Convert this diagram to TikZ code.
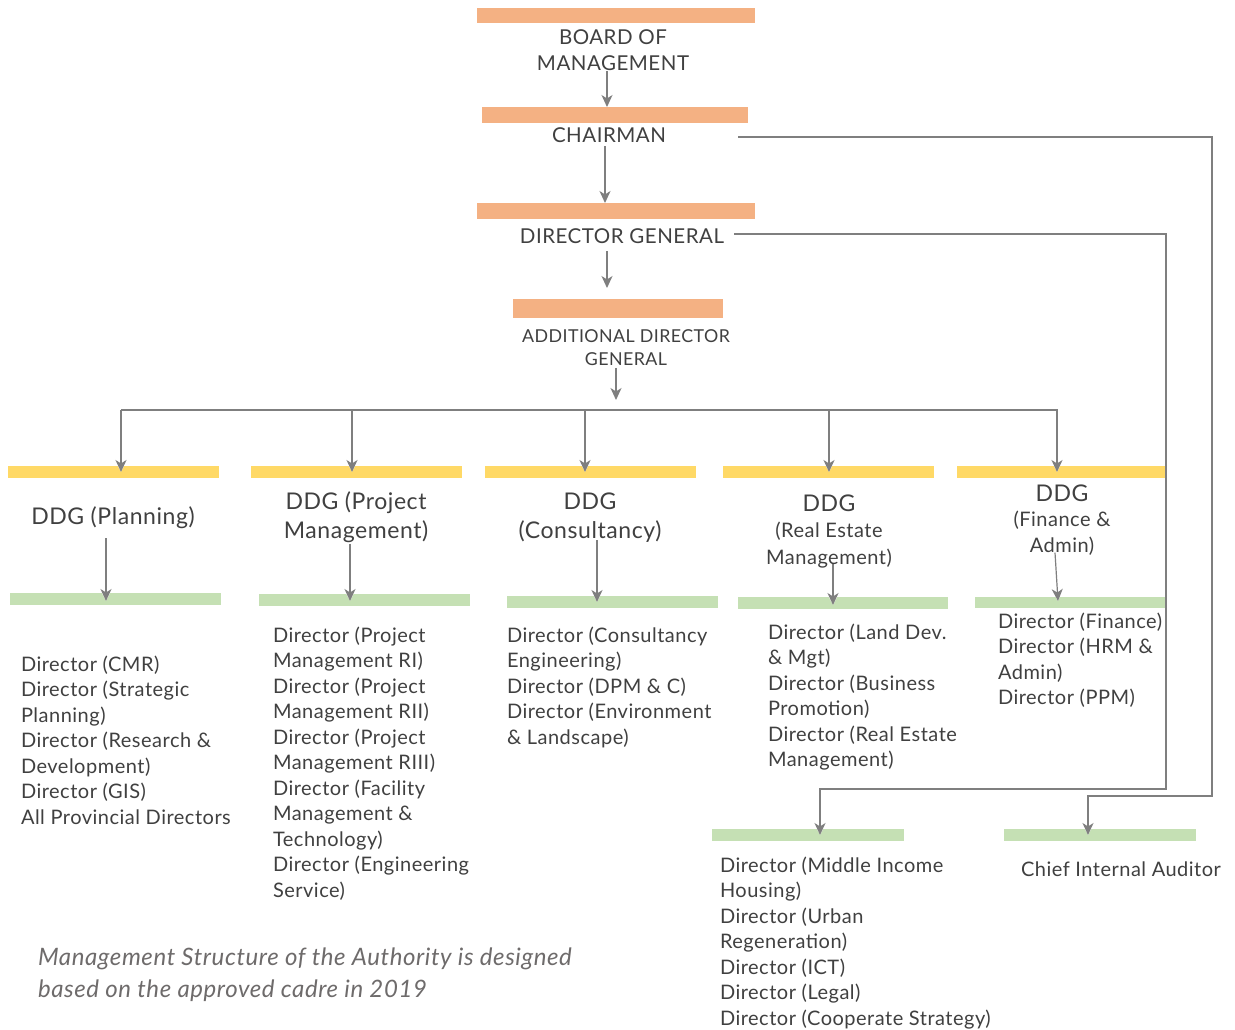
\documentclass[tikz,border=0pt]{standalone}
\usepackage{fontspec}
\setmainfont{Lato}[LetterSpace=2.5]
\usetikzlibrary{arrows.meta}

\definecolor{barorange}{HTML}{F4B183}
\definecolor{baryellow}{HTML}{FFD966}
\definecolor{bargreen}{HTML}{C5E0B4}
\definecolor{ink}{HTML}{404040}
\definecolor{wire}{HTML}{7F7F7F}
\definecolor{note}{HTML}{6E6B6B}

\pgfdeclarelayer{fg}
\pgfsetlayers{main,fg}

% font size / baseline skip in one go
\newcommand{\fsz}[2]{\fontsize{#1}{#2}\selectfont}
% stacked lines whose reference point is the first baseline
\newcommand{\tlines}[2]{\begin{tabular}[t]{@{}#1@{}}#2\end{tabular}}
% coloured band: name, x, y (top left), width, height, colour
\newcommand{\band}[6]{\node[band, fill=#6, minimum width=#4pt, minimum height=#5pt] (#1) at (#2,#3) {};}

\begin{document}
\begin{tikzpicture}[x=1pt, y=-1pt,
  band/.style={inner sep=0pt, outer sep=0pt, anchor=north west, draw=none},
  txt/.style={inner sep=0pt, outer sep=0pt, text=ink},
  wireline/.style={draw=wire, line width=1.2pt},
  arr/.style={wireline, -{Stealth[length=12pt, width=11pt, inset=3.5pt]}},
  arrh/.style={arr, preaction={draw=white, line width=3pt,
      -{Stealth[length=15pt, width=15pt, inset=4.5pt]}}},
]
\useasboundingbox[fill=white] (0,0) rectangle (1235,1030);

% ---- coloured bands ----
\band{board}{477}{8}{278}{15}{barorange}
\band{chair}{482}{107}{266}{16}{barorange}
\band{dg}{477}{203}{278}{16}{barorange}
\band{adg}{513}{299}{210}{19}{barorange}

\band{ddg1}{8}{466}{211}{12}{baryellow}
\band{ddg2}{251}{466}{211}{12}{baryellow}
\band{ddg3}{485}{466}{211}{12}{baryellow}
\band{ddg4}{723}{466}{211}{12}{baryellow}
\band{ddg5}{957}{466}{210}{12}{baryellow}

\band{grn1}{10}{593}{211}{12}{bargreen}
\band{grn2}{259}{594}{211}{12}{bargreen}
\band{grn3}{507}{596}{211}{12}{bargreen}
\band{grn4}{738}{597}{210}{12}{bargreen}
\band{grn5}{975}{597}{192}{11}{bargreen}
\band{grnM}{712}{829}{192}{12}{bargreen}
\band{grnC}{1004}{829}{192}{12}{bargreen}

% ---- labels (kept on top of the connectors) ----
\begin{pgfonlayer}{fg}
\node[txt, anchor=base] (boardtxt) at (613,45) {\fsz{20.5}{26}\tlines{c}{BOARD OF\\MANAGEMENT}};
\node[txt, anchor=base] (chairtxt) at (609,143) {\fsz{20.5}{26}CHAIRMAN};
\node[txt, anchor=base] (dgtxt) at (622,243) {\fsz{20.5}{26}DIRECTOR GENERAL};
\node[txt, anchor=base] (adgtxt) at (626,342) {\fsz{17.8}{23}\tlines{c}{ADDITIONAL DIRECTOR\\GENERAL}};

\node[txt, anchor=base] (ddgtxt1) at (113,524) {\fsz{23}{29}DDG (Planning)};
\node[txt, anchor=base] (ddgtxt2) at (356,509) {\fsz{23}{29}\tlines{c}{DDG (Project\\Management)}};
\node[txt, anchor=base] (ddgtxt3) at (590,509) {\fsz{23}{29}\tlines{c}{DDG\\(Consultancy)}};
\node[txt, anchor=base] (ddgtxt4) at (829,511) {\fsz{20}{26.5}\tlines{c}{{\fsz{23}{26.5}DDG}\\(Real Estate\\Management)}};
\node[txt, anchor=base] (ddgtxt5) at (1062,501) {\fsz{20}{25.5}\tlines{c}{{\fsz{23}{25.5}DDG}\\(Finance \&\\Admin)}};

\node[txt, anchor=base west] (dir1) at (21,671) {\fsz{20}{25.5}\tlines{l}{Director (CMR)\\Director (Strategic\\Planning)\\Director (Research \&\\Development)\\Director (GIS)\\All Provincial Directors}};
\node[txt, anchor=base west] (dir2) at (273,642) {\fsz{20}{25.5}\tlines{l}{Director (Project\\Management RI)\\Director (Project\\Management RII)\\Director (Project\\Management RIII)\\Director (Facility\\Management \&\\Technology)\\Director (Engineering\\Service)}};
\node[txt, anchor=base west] (dir3) at (507,642) {\fsz{20}{25.5}\tlines{l}{Director (Consultancy\\Engineering)\\Director (DPM \& C)\\Director (Environment\\\& Landscape)}};
\node[txt, anchor=base west] (dir4) at (768,639) {\fsz{20}{25.5}\tlines{l}{Director (Land Dev.\\\& Mgt)\\Director (Business\\Promotion)\\Director (Real Estate\\Management)}};
\node[txt, anchor=base west] (dir5) at (998,628) {\fsz{20}{25.5}\tlines{l}{Director (Finance)\\Director (HRM \&\\Admin)\\Director (PPM)}};
\node[txt, anchor=base west] (dirM) at (720,872) {\fsz{20}{25.5}\tlines{l}{Director (Middle Income\\Housing)\\Director (Urban\\Regeneration)\\Director (ICT)\\Director (Legal)\\Director (Cooperate Strategy)}};
\node[txt, anchor=base west] (ciatxt) at (1021,876) {\fsz{20}{25.5}Chief Internal Auditor};

\node[txt, anchor=base west, text=note] (caption) at (38,965) {\fsz{24}{32}\itshape\tlines{l}{Management Structure of the Authority is designed\\based on the approved cadre in 2019}};
\end{pgfonlayer}

% ---- top chain ----
\draw[arr] ([xshift=-6,yshift=8]boardtxt.south) -- ([xshift=-8]chair.north);
\draw[arr] ([xshift=-4,yshift=-3]chairtxt.south) -- ([xshift=-11]dg.north);
\draw[arr] ([xshift=-15,yshift=-8]dgtxt.south) -- ([xshift=-11,yshift=11]adg.north);
\coordinate (busin) at (616,400);
\draw[arr] ([xshift=-10,yshift=4]adgtxt.south) -- (busin);

% ---- branch bus to the deputies ----
\coordinate (busL) at (121,410);
\coordinate (busR) at (1058,410);
\path ([xshift=7.5]ddg1.center) coordinate (d1)
      ([xshift=-4.5]ddg2.center) coordinate (d2)
      ([xshift=-5.5]ddg3.center) coordinate (d3)
      ([xshift=0.5]ddg4.center) coordinate (d4)
      ([xshift=-5]ddg5.center) coordinate (d5);
\foreach \d in {d1,d2,d3,d4,d5}{
  \draw[arrh] (\d |- busL) -- (\d);
}
\draw[wireline] (busL) -- (busR);

% ---- deputies to their directors ----
\draw[arrh] ([xshift=-7,yshift=-10]ddgtxt1.south) -- ([xshift=-9.5,yshift=-2]grn1.center);
\draw[arrh] ([xshift=-6,yshift=3]ddgtxt2.south) -- ([xshift=-14.5,yshift=-1]grn2.center);
\draw[arrh] ([xshift=7,yshift=6.7]ddgtxt3.south) -- ([xshift=-15.5]grn3.center);
\draw[arrh] ([xshift=4,yshift=9]ddgtxt4.south) -- ([xshift=-10,yshift=-2]grn4.center);
\draw[arrh] ([xshift=-7,yshift=7]ddgtxt5.south) -- ([xshift=-13,yshift=1.5]grn5.center);

% ---- direct reports on the right ----
\coordinate (cturn) at (1212,796);
\coordinate (dturn) at (1166,789);
\draw[arrh] ([xshift=-10,yshift=-14]chair.south east) -| (cturn) -| ([xshift=-12]grnC.center);
\draw[arrh] ([xshift=-21,yshift=-15]dg.south east) -| (dturn) -| ([xshift=12]grnM.center);
\end{tikzpicture}
\end{document}
